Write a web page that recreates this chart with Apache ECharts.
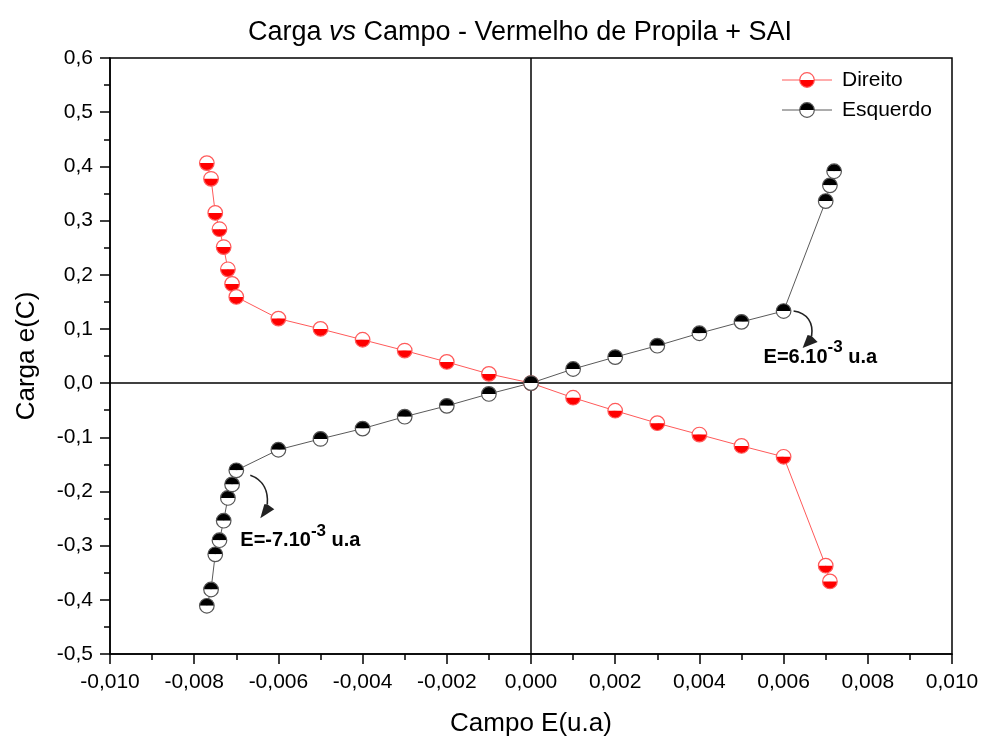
<!DOCTYPE html>
<html>
<head>
<meta charset="utf-8">
<script src="https://cdn.jsdelivr.net/npm/echarts@6/dist/echarts.min.js"></script>
<style>
  html, body { margin: 0; padding: 0; background: #fff; }
  #chart { width: 984px; height: 743px; }
</style>
</head>
<body>
<div id="chart"></div>
<script>
// Charge (C) against field E (u.a) for the two sweep directions
const direitoX = [-0.0077, -0.0076, -0.0075, -0.0074, -0.0073, -0.0072, -0.0071, -0.0070,
  -0.006, -0.005, -0.004, -0.003, -0.002, -0.001, 0,
  0.001, 0.002, 0.003, 0.004, 0.005, 0.006, 0.007, 0.0071];
const direitoY = [0.406, 0.377, 0.314, 0.284, 0.251, 0.210, 0.183, 0.159,
  0.119, 0.100, 0.080, 0.060, 0.039, 0.017, 0,
  -0.027, -0.051, -0.074, -0.095, -0.116, -0.136, -0.337, -0.366];

const esquerdoX = [-0.0077, -0.0076, -0.0075, -0.0074, -0.0073, -0.0072, -0.0071, -0.0070,
  -0.006, -0.005, -0.004, -0.003, -0.002, -0.001, 0,
  0.001, 0.002, 0.003, 0.004, 0.005, 0.006, 0.007, 0.0071, 0.0072];
const esquerdoY = [-0.411, -0.381, -0.316, -0.290, -0.254, -0.212, -0.187, -0.161,
  -0.123, -0.103, -0.084, -0.062, -0.042, -0.020, 0,
  0.026, 0.048, 0.069, 0.092, 0.113, 0.133, 0.336, 0.365, 0.391];

// Axis ranges and tick steps
const xRange = [-0.010, 0.010];
const xStep = 0.002;
const yRange = [-0.5, 0.6];
const yStep = 0.1;

// Annotated threshold points
const notes = [
  { at: [0.006, 0.133], label: 'E=6.10', unit: ' u.a' },
  { at: [-0.0070, -0.161], label: 'E=-7.10', unit: ' u.a' }
];

const RED = '#ff0000';
const RED_LINE = '#ff5a5a';
const DARK = '#000000';
const DARK_LINE = '#5a5a5a';
const FONT = '"Liberation Sans", Arial, sans-serif';
const MARK_R = 7.3;

const pairs = (xs, ys) => xs.map((x, i) => [x, ys[i]]);
const comma = (v, d) => v.toFixed(d).replace('.', ',');

// Half-filled circle marker drawn at each data point
function markerSeries(xs, ys, topFill, bottomFill, stroke) {
  return {
    type: 'custom',
    data: pairs(xs, ys),
    z: 6,
    silent: true,
    renderItem: function (params, api) {
      const p = api.coord([api.value(0), api.value(1)]);
      const r = MARK_R;
      return {
        type: 'group',
        children: [
          { type: 'sector', shape: { cx: p[0], cy: p[1], r: r, startAngle: Math.PI, endAngle: 2 * Math.PI }, style: { fill: topFill } },
          { type: 'sector', shape: { cx: p[0], cy: p[1], r: r, startAngle: 0, endAngle: Math.PI }, style: { fill: bottomFill } },
          { type: 'circle', shape: { cx: p[0], cy: p[1], r: r }, style: { fill: 'none', stroke: stroke, lineWidth: 1.2 } }
        ]
      };
    }
  };
}

const chart = echarts.init(document.getElementById('chart'), null, { renderer: 'canvas' });

chart.setOption({
  backgroundColor: '#fff',
  animation: false,
  textStyle: { fontFamily: FONT },
  title: {
    text: '{n|Carga }{i|vs}{n| Campo - Vermelho de Propila + SAI}',
    left: 515,
    textAlign: 'center',
    top: 14,
    textStyle: {
      rich: {
        n: { fontFamily: FONT, fontSize: 27, fontWeight: 'normal', color: '#000' },
        i: { fontFamily: FONT, fontSize: 27, fontWeight: 'normal', color: '#000', fontStyle: 'italic' }
      }
    }
  },
  grid: {
    left: 110, right: 32, top: 58, bottom: 89,
    show: true, borderColor: '#000', borderWidth: 1.5, backgroundColor: 'transparent'
  },
  xAxis: {
    type: 'value',
    min: xRange[0], max: xRange[1], interval: xStep,
    name: 'Campo E(u.a)', nameLocation: 'middle', nameGap: 57,
    nameTextStyle: { fontFamily: FONT, fontSize: 26, color: '#000' },
    axisLine: { onZero: false, lineStyle: { color: '#000', width: 1.5 } },
    axisTick: { inside: false, length: 10, lineStyle: { color: '#000', width: 1.5 } },
    minorTick: { show: true, splitNumber: 2, length: 6, lineStyle: { color: '#000', width: 1.5 } },
    splitLine: { show: false },
    axisLabel: { fontFamily: FONT, fontSize: 21, color: '#000', margin: 18, formatter: v => comma(v, 3) }
  },
  yAxis: {
    type: 'value',
    min: yRange[0], max: yRange[1], interval: yStep,
    name: 'Carga e(C)', nameLocation: 'middle', nameGap: 70,
    nameTextStyle: { fontFamily: FONT, fontSize: 26, color: '#000' },
    axisLine: { onZero: false, lineStyle: { color: '#000', width: 1.5 } },
    axisTick: { inside: false, length: 10, lineStyle: { color: '#000', width: 1.5 } },
    minorTick: { show: true, splitNumber: 2, length: 6, lineStyle: { color: '#000', width: 1.5 } },
    splitLine: { show: false },
    axisLabel: { fontFamily: FONT, fontSize: 21, color: '#000', margin: 17, formatter: v => comma(v, 1) }
  },
  series: [
    {
      name: 'Direito', type: 'line', data: pairs(direitoX, direitoY),
      symbol: 'none', z: 3,
      lineStyle: { color: RED_LINE, width: 1 },
      markLine: {
        silent: true, symbol: 'none', animation: false,
        label: { show: false },
        lineStyle: { color: '#000', width: 1.5, type: 'solid' },
        data: [{ xAxis: 0 }, { yAxis: 0 }]
      }
    },
    {
      name: 'Esquerdo', type: 'line', data: pairs(esquerdoX, esquerdoY),
      symbol: 'none', z: 3,
      lineStyle: { color: DARK_LINE, width: 1 }
    },
    markerSeries(direitoX, direitoY, '#ffffff', RED, RED_LINE),
    markerSeries(esquerdoX, esquerdoY, DARK, '#ffffff', '#555555')
  ]
});

// Legend, annotation text and curved arrows
function legendItem(y, lineColor, topFill, bottomFill, stroke, text) {
  const x0 = 782, x1 = 832, cx = 807, r = MARK_R;
  return [
    { type: 'line', shape: { x1: x0, y1: y, x2: x1, y2: y }, style: { stroke: lineColor, lineWidth: 1 }, z: 10 },
    { type: 'sector', shape: { cx: cx, cy: y, r: r, startAngle: Math.PI, endAngle: 2 * Math.PI }, style: { fill: topFill }, z: 11 },
    { type: 'sector', shape: { cx: cx, cy: y, r: r, startAngle: 0, endAngle: Math.PI }, style: { fill: bottomFill }, z: 11 },
    { type: 'circle', shape: { cx: cx, cy: y, r: r }, style: { fill: 'none', stroke: stroke, lineWidth: 1.2 }, z: 12 },
    { type: 'text', x: 842, y: y, style: { text: text, fontFamily: FONT, fontSize: 21, fill: '#000', verticalAlign: 'middle' }, z: 12 }
  ];
}

function noteGraphics(note, dx, dy, arrow) {
  const p = chart.convertToPixel({ gridIndex: 0 }, note.at);
  const a = arrow.map(v => [p[0] + v[0], p[1] + v[1]]);
  const tip = a[4], base1 = a[5], base2 = a[6];
  return [
    {
      type: 'bezierCurve', z: 10,
      shape: { x1: a[0][0], y1: a[0][1], cpx1: a[1][0], cpy1: a[1][1], cpx2: a[2][0], cpy2: a[2][1], x2: a[3][0], y2: a[3][1] },
      style: { stroke: '#222', lineWidth: 1.6, fill: 'none' }
    },
    { type: 'polygon', z: 10, shape: { points: [tip, base1, a[3], base2] }, style: { fill: '#222' } },
    {
      type: 'text', z: 10, x: p[0] + dx, y: p[1] + dy,
      style: {
        text: '{b|' + note.label + '}{s|-3}{b|' + note.unit + '}',
        rich: {
          b: { fontFamily: FONT, fontSize: 20, fontWeight: 'bold', fill: '#000', lineHeight: 28, verticalAlign: 'bottom' },
          s: { fontFamily: FONT, fontSize: 17, fontWeight: 'bold', fill: '#000', lineHeight: 28, verticalAlign: 'top' }
        },
        verticalAlign: 'middle'
      }
    }
  ];
}

chart.setOption({
  graphic: [].concat(
    legendItem(80, RED_LINE, '#ffffff', RED, RED_LINE, 'Direito'),
    legendItem(110, DARK_LINE, DARK, '#ffffff', '#555555', 'Esquerdo'),
    noteGraphics(notes[0], -20, 42,
      [[10, 0], [24, 2], [30, 12], [28, 25], [19, 37], [24, 24], [34, 31]]),
    noteGraphics(notes[1], 4, 66,
      [[14, 5], [28, 10], [32, 22], [31, 34], [24, 48], [28, 34], [38, 39]])
  )
});
</script>
</body>
</html>
